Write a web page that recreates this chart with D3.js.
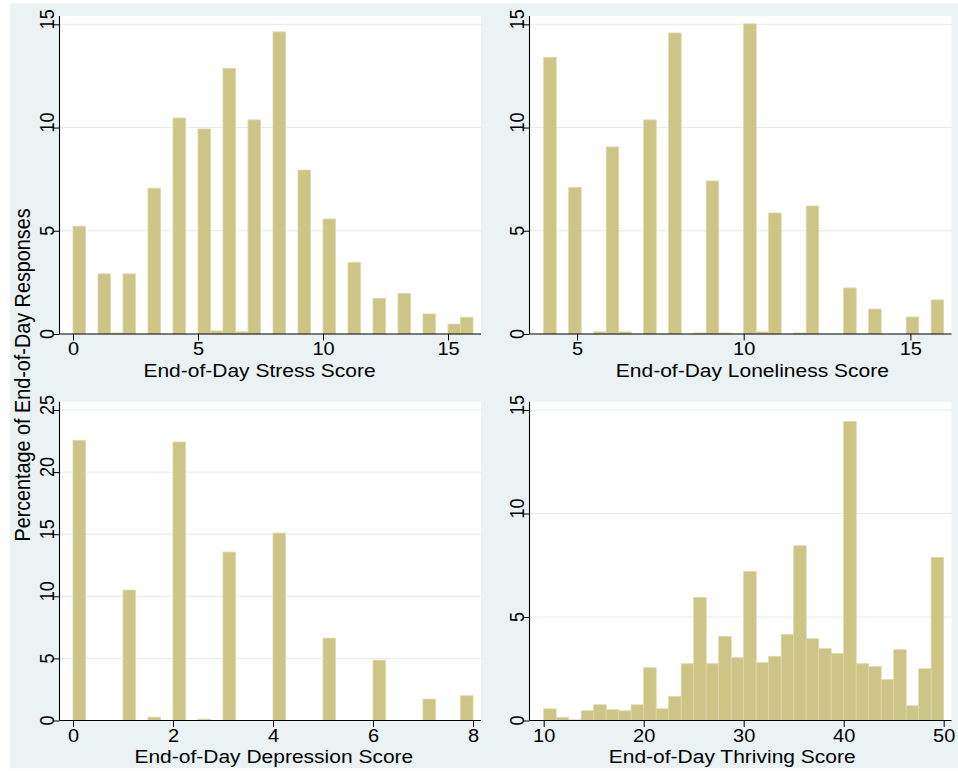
<!DOCTYPE html>
<html>
<head>
<meta charset="utf-8">
<script src="https://cdn.jsdelivr.net/npm/d3@7"></script>
<style>
  html, body { margin: 0; padding: 0; background: #ffffff; }
  svg { display: block; }
</style>
</head>
<body>
<svg id="chart" width="958" height="771"></svg>
<script>
// Percentage of end-of-day responses in each of 32 equal-width bins per score.
const stressRange = [0, 16];
const stressPct = [
  5.22, 0, 2.91, 0.05, 2.91, 0, 7.06, 0,
  10.46, 0, 9.93, 0.15, 12.87, 0.10, 10.37, 0,
  14.63, 0, 7.94, 0, 5.57, 0, 3.47, 0,
  1.73, 0, 1.97, 0, 0.97, 0, 0.48, 0.81
];

const lonelinessRange = [4, 16];
const lonelinessPct = [
  13.40, 0, 7.10, 0, 0.10, 9.06, 0.10, 0,
  10.37, 0, 14.58, 0, 0.05, 7.41, 0.05, 0,
  15.02, 0.10, 5.86, 0, 0.05, 6.20, 0, 0,
  2.23, 0, 1.21, 0, 0, 0.82, 0, 1.65
];

const depressionRange = [0, 8];
const depressionPct = [
  22.56, 0, 0, 0, 10.50, 0, 0.27, 0,
  22.42, 0, 0.11, 0, 13.56, 0, 0, 0,
  15.09, 0, 0, 0, 6.63, 0, 0, 0,
  4.86, 0, 0, 0, 1.72, 0, 0, 1.99
];

const thrivingRange = [10, 50];
const thrivingPct = [
  0.56, 0.15, 0.03, 0.47, 0.76, 0.52, 0.47, 0.76,
  2.55, 0.56, 1.16, 2.74, 5.94, 2.74, 4.06, 3.03,
  7.19, 2.79, 3.10, 4.15, 8.44, 3.95, 3.47, 3.23,
  14.45, 2.74, 2.60, 1.97, 3.42, 0.71, 2.50, 7.87
];

// Axis tick labels
const stressTicks = [0, 5, 10, 15];
const lonelinessTicks = [5, 10, 15];
const depressionTicks = [0, 2, 4, 6, 8];
const thrivingTicks = [10, 20, 30, 40, 50];
const pctTicks15 = [0, 5, 10, 15];
const pctTicks25 = [0, 5, 10, 15, 20, 25];

const xTitles = [
  "End-of-Day Stress Score",
  "End-of-Day Loneliness Score",
  "End-of-Day Depression Score",
  "End-of-Day Thriving Score"
];
const yTitle = "Percentage of End-of-Day Responses";

// ---- styling ----
const FONT = "'Liberation Sans', Arial, Helvetica, sans-serif";
const SQ = 0.9;               // vertical squash applied to lettering
const BG = "#eaf2f3";
const GRID = "#e3ecee";
const BAR_FILL = "#cdc586";
const BAR_EDGE = "#dbd7a8";

const svg = d3.select("#chart");

// graph region background
svg.append("rect")
  .attr("x", 10).attr("y", 3.3)
  .attr("width", 948).attr("height", 765)
  .attr("fill", BG);

// per-panel frame geometry (plot region, baseline, scale extent)
const panels = [
  { range: stressRange, pct: stressPct, xTicks: stressTicks, yTicks: pctTicks15, yMax: 15,
    x0: 60, x1: 481, top: 16, base: 334, r0: 73, r1: 473, yMaxPx: 24.3,
    title: xTitles[0], titleX: 259.5 },
  { range: lonelinessRange, pct: lonelinessPct, xTicks: lonelinessTicks, yTicks: pctTicks15, yMax: 15,
    x0: 530, x1: 951.5, top: 16, base: 334, r0: 543.7, r1: 943.7, yMaxPx: 24.3,
    title: xTitles[1], titleX: 752.3 },
  { range: depressionRange, pct: depressionPct, xTicks: depressionTicks, yTicks: pctTicks25, yMax: 25,
    x0: 60, x1: 481, top: 401.7, base: 720.5, r0: 73, r1: 473, yMaxPx: 410,
    title: xTitles[2], titleX: 273.8 },
  { range: thrivingRange, pct: thrivingPct, xTicks: thrivingTicks, yTicks: pctTicks15, yMax: 15,
    x0: 530, x1: 951.5, top: 401.7, base: 720.5, r0: 543.7, r1: 943.7, yMaxPx: 410,
    title: xTitles[3], titleX: 732.2 }
];

panels.forEach(p => {
  const g = svg.append("g");

  const x = d3.scaleLinear().domain(p.range).range([p.r0, p.r1]);
  const y = d3.scaleLinear().domain([0, p.yMax]).range([p.base, p.yMaxPx]);

  // white plot region
  g.append("rect")
    .attr("x", p.x0).attr("y", p.top)
    .attr("width", p.x1 - p.x0).attr("height", p.base - p.top)
    .attr("fill", "#ffffff");

  // horizontal grid lines
  g.append("g").selectAll("line")
    .data(p.yTicks.filter(t => t !== 0))
    .join("line")
    .attr("x1", p.x0).attr("x2", p.x1)
    .attr("y1", d => y(d)).attr("y2", d => y(d))
    .attr("stroke", GRID).attr("stroke-width", 1);

  // histogram bars
  const nb = p.pct.length;
  const w = (p.range[1] - p.range[0]) / nb;
  const bins = p.pct.map((v, i) => ({ lo: p.range[0] + i * w, hi: p.range[0] + (i + 1) * w, v }))
    .filter(b => b.v > 0);
  g.append("g").selectAll("rect")
    .data(bins)
    .join("rect")
    .attr("x", b => x(b.lo))
    .attr("width", b => x(b.hi) - x(b.lo))
    .attr("y", b => y(b.v))
    .attr("height", b => p.base - y(b.v))
    .attr("fill", BAR_FILL)
    .attr("stroke", BAR_EDGE)
    .attr("stroke-width", 0.8);

  // x axis ticks and labels
  const xa = g.append("g")
    .attr("transform", `translate(0,${p.base})`)
    .call(d3.axisBottom(x).tickValues(p.xTicks).tickSize(6.5).tickSizeOuter(0).tickFormat(d3.format("d")));
  xa.select(".domain").remove();
  xa.selectAll(".tick line").attr("stroke", "#000").attr("stroke-width", 1);
  xa.selectAll(".tick text")
    .attr("y", 0).attr("dy", 0)
    .attr("transform", `translate(0,21.2) scale(1,${SQ})`)
    .attr("font-family", FONT).attr("font-size", 20).attr("fill", "#000");

  // y axis ticks and rotated labels
  const ya = g.append("g")
    .attr("transform", `translate(${p.x0 - 0.5},0)`)
    .call(d3.axisLeft(y).tickValues(p.yTicks).tickSize(6.5).tickSizeOuter(0).tickFormat(d3.format("d")));
  ya.select(".domain").remove();
  ya.selectAll(".tick line").attr("stroke", "#000").attr("stroke-width", 1);
  ya.selectAll(".tick text")
    .attr("x", 0).attr("dy", 0)
    .attr("text-anchor", "start")
    .attr("transform", `translate(-5.5,4.5) scale(1,${SQ}) rotate(-90)`)
    .attr("font-family", FONT).attr("font-size", 20).attr("fill", "#000");

  // axis lines
  g.append("line")
    .attr("x1", p.x0 - 0.5).attr("x2", p.x1)
    .attr("y1", p.base).attr("y2", p.base)
    .attr("stroke", "#000").attr("stroke-width", 1.1);
  g.append("line")
    .attr("x1", p.x0 - 0.5).attr("x2", p.x0 - 0.5)
    .attr("y1", p.top).attr("y2", p.base)
    .attr("stroke", "#000").attr("stroke-width", 1.1);

  // x axis title
  g.append("text")
    .attr("text-anchor", "middle")
    .attr("transform", `translate(${p.titleX},${p.base + 42.7}) scale(1,${SQ})`)
    .attr("font-family", FONT).attr("font-size", 21).attr("fill", "#000")
    .text(p.title);
});

// shared y axis title
svg.append("text")
  .attr("text-anchor", "middle")
  .attr("transform", `translate(29.5,375) scale(1,${SQ}) rotate(-90)`)
  .attr("font-family", FONT).attr("font-size", 22).attr("fill", "#000")
  .text(yTitle);
</script>
</body>
</html>
